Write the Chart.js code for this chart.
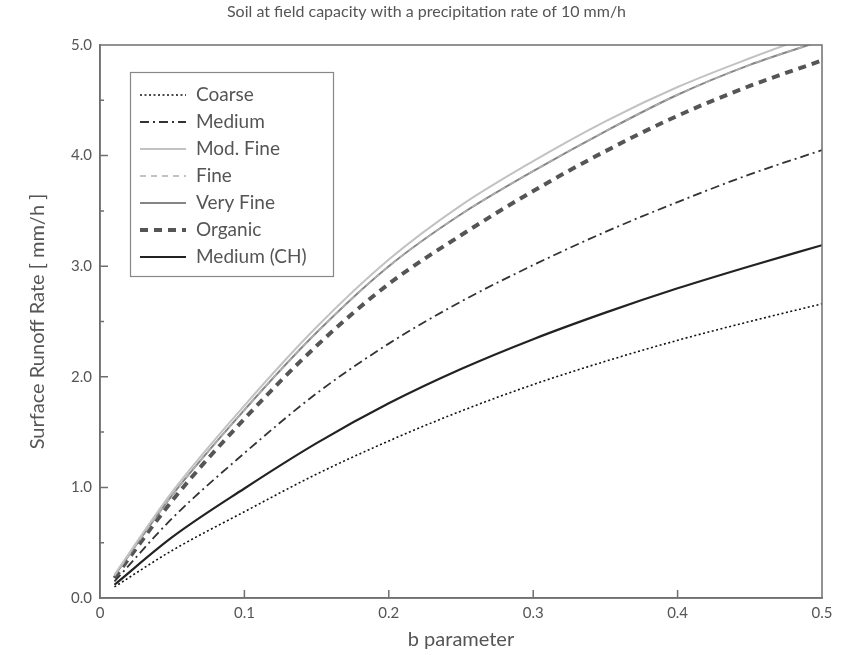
<!DOCTYPE html>
<html>
<head>
<meta charset="utf-8">
<title>Surface runoff vs b parameter</title>
<script src="https://cdn.jsdelivr.net/npm/chart.js@4.4.1/dist/chart.umd.min.js"></script>
<style>
  html, body { margin: 0; padding: 0; background: #fff; }
  #wrap { width: 853px; height: 655px; position: relative; }
</style>
</head>
<body>
<div id="wrap"><canvas id="runoffChart"></canvas></div>
<script>
// b parameter sample points
const bValues = [0.01, 0.05, 0.10, 0.15, 0.20, 0.25, 0.30, 0.35, 0.40, 0.45, 0.50];

// surface runoff rate [mm/h] per soil class
const coarse   = [0.10, 0.43, 0.78, 1.12, 1.42, 1.69, 1.93, 2.14, 2.33, 2.50, 2.66];
const medium   = [0.15, 0.72, 1.31, 1.85, 2.30, 2.68, 3.01, 3.31, 3.58, 3.83, 4.05];
const modFine  = [0.21, 0.96, 1.74, 2.45, 3.06, 3.55, 3.95, 4.31, 4.62, 4.88, 5.12];
const fine     = [0.20, 0.93, 1.70, 2.40, 3.00, 3.47, 3.86, 4.22, 4.55, 4.82, 5.04];
const veryFine = [0.20, 0.93, 1.70, 2.40, 3.00, 3.47, 3.86, 4.22, 4.55, 4.82, 5.04];
const organic  = [0.18, 0.88, 1.62, 2.28, 2.84, 3.28, 3.68, 4.04, 4.36, 4.63, 4.86];
const mediumCH = [0.12, 0.55, 0.99, 1.40, 1.76, 2.07, 2.34, 2.58, 2.80, 3.00, 3.19];

const xTicks = ['0', '0.1', '0.2', '0.3', '0.4', '0.5'];
const yTicks = ['0.0', '1.0', '2.0', '3.0', '4.0', '5.0'];

const FONT = 'Lato, "DejaVu Sans", sans-serif';
const TEXT = '#555';

function pts(ys) {
    return bValues.map((b, i) => ({ x: b, y: ys[i] }));
}

function series(label, ys, color, width, dash) {
    return {
        label: label,
        data: pts(ys),
        borderColor: color,
        borderWidth: width,
        borderDash: dash,
        pointRadius: 0,
        fill: false,
        cubicInterpolationMode: 'monotone'
    };
}

// frame, inward ticks and the boxed legend inside the plot
const framePlugin = {
    id: 'frame',
    afterDraw(chart) {
        const ctx = chart.ctx;
        const a = chart.chartArea;
        const xs = chart.scales.x, ys = chart.scales.y;
        ctx.save();
        ctx.strokeStyle = '#6f6f6f';
        ctx.lineWidth = 1.5;
        ctx.strokeRect(a.left, a.top, a.right - a.left, a.bottom - a.top);

        ctx.beginPath();
        for (let v = 0.1; v < 0.5; v += 0.1) {
            const px = xs.getPixelForValue(v);
            ctx.moveTo(px, a.bottom);
            ctx.lineTo(px, a.bottom - 8);
        }
        for (let v = 0.5; v < 5; v += 0.5) {
            const py = ys.getPixelForValue(v);
            const len = Math.abs(v % 1) < 0.01 ? 8 : 4;
            ctx.moveTo(a.left, py);
            ctx.lineTo(a.left + len, py);
        }
        ctx.stroke();

        // legend
        const lx = 130, ly = 72, lw = 203, lh = 204;
        ctx.fillStyle = '#fff';
        ctx.fillRect(lx, ly, lw, lh);
        ctx.strokeStyle = '#888';
        ctx.lineWidth = 1.2;
        ctx.strokeRect(lx + 0.5, ly + 0.5, lw, lh);
        ctx.font = '19px ' + FONT;
        ctx.textBaseline = 'middle';
        chart.data.datasets.forEach((ds, i) => {
            const y = 95 + i * 27;
            ctx.beginPath();
            ctx.strokeStyle = ds.borderColor;
            ctx.lineWidth = ds.borderWidth;
            ctx.setLineDash(ds.borderDash || []);
            ctx.moveTo(140, y);
            ctx.lineTo(186, y);
            ctx.stroke();
            ctx.setLineDash([]);
            ctx.fillStyle = TEXT;
            ctx.fillText(ds.label, 196, y);
        });
        ctx.restore();
    }
};

new Chart(document.getElementById('runoffChart'), {
    type: 'line',
    data: {
        datasets: [
            series('Coarse', coarse, '#111', 1.6, [2, 2.5]),
            series('Medium', medium, '#333', 1.8, [9, 4, 2, 4]),
            series('Mod. Fine', modFine, '#c2c2c2', 2, []),
            series('Fine', fine, '#b0b0b0', 1.5, [6, 5]),
            series('Very Fine', veryFine, '#858585', 2, []),
            series('Organic', organic, '#555', 4, [8, 6]),
            series('Medium (CH)', mediumCH, '#222', 2.2, [])
        ]
    },
    options: {
        responsive: true,
        maintainAspectRatio: false,
        animation: false,
        layout: { padding: 0 },
        plugins: {
            legend: { display: false },
            tooltip: { enabled: false },
            title: {
                display: true,
                text: 'Soil at field capacity with a precipitation rate of 10 mm/h',
                color: TEXT,
                font: { family: FONT, size: 16, weight: 'normal' },
                padding: { top: 2.4, bottom: 23.4 }
            }
        },
        scales: {
            x: {
                type: 'linear',
                min: 0,
                max: 0.5,
                afterFit(scale) { scale.height = 57; },
                border: { color: '#6f6f6f', width: 1.5 },
                grid: { drawOnChartArea: false, drawTicks: false },
                ticks: {
                    stepSize: 0.1,
                    padding: 6,
                    color: TEXT,
                    font: { family: FONT, size: 15 },
                    callback: (v) => xTicks[Math.round(v * 10)]
                },
                title: {
                    display: true,
                    text: 'b parameter',
                    color: TEXT,
                    font: { family: FONT, size: 20 },
                    padding: { top: 0, bottom: 3 }
                }
            },
            y: {
                min: 0,
                max: 5,
                afterFit(scale) { scale.width = 100; },
                border: { color: '#6f6f6f', width: 1.5 },
                grid: { drawOnChartArea: false, drawTicks: false },
                ticks: {
                    stepSize: 1,
                    padding: 8,
                    color: TEXT,
                    font: { family: FONT, size: 15 },
                    callback: (v) => yTicks[Math.round(v)]
                },
                title: {
                    display: true,
                    text: 'Surface Runoff Rate [ mm/h ]',
                    color: TEXT,
                    font: { family: FONT, size: 20 },
                    padding: { top: 26, bottom: 0 }
                }
            },
            // empty right-hand gutter so the title stays centred on the page
            gutter: {
                type: 'linear',
                position: 'right',
                display: true,
                afterFit(scale) { scale.width = 31; },
                border: { display: false },
                grid: { display: false },
                ticks: { display: false }
            }
        }
    },
    plugins: [framePlugin]
});
</script>
</body>
</html>
